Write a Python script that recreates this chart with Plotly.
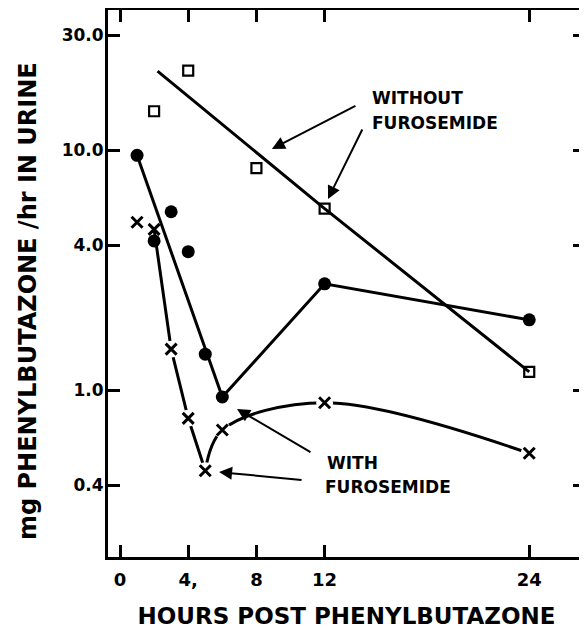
import plotly.graph_objects as go

# ---- data ----
hours_sq = [2, 4, 8, 12, 24]
vals_sq = [14.5, 21.4, 8.4, 5.7, 1.19]          # without furosemide (open squares)
fit_hours = [2.2, 12, 24]
fit_vals = [21.3, 5.7, 1.19]                    # fitted line, without furosemide

hours_dot = [1, 2, 3, 4, 5, 6, 12, 24]
vals_dot = [9.5, 4.18, 5.53, 3.77, 1.41, 0.935, 2.77, 1.96]   # filled circles
dot_line_hours = [1, 6]
dot_line_vals = [9.5, 0.935]
dot_line2_hours = [6, 12, 24]
dot_line2_vals = [0.935, 2.77, 1.96]

hours_x = [1, 2, 3, 4, 5, 6, 12, 24]
vals_x = [5.0, 4.67, 1.48, 0.762, 0.461, 0.681, 0.885, 0.545]  # crosses (with furosemide)
x_down_hours = [2, 3, 4, 5]
x_down_vals = [4.67, 1.48, 0.762, 0.461]
x_up_hours = [5, 6, 12, 24]
x_up_vals = [0.461, 0.681, 0.885, 0.545]

x_tickvals = [0, 4, 8, 12, 24]
x_ticktext = ["0", "4,", "8", "12", "24"]
y_tickvals = [0.4, 1.0, 4.0, 10.0, 30.0]
y_ticktext = ["0.4", "1.0", "4.0", "10.0", "30.0"]

FONT = "DejaVu Sans"
LW = 3

fig = go.Figure()

# lines
fig.add_trace(go.Scatter(x=fit_hours, y=fit_vals, mode="lines",
                         line=dict(color="black", width=LW), showlegend=False))
fig.add_trace(go.Scatter(x=dot_line_hours, y=dot_line_vals, mode="lines",
                         line=dict(color="black", width=LW), showlegend=False))
fig.add_trace(go.Scatter(x=dot_line2_hours, y=dot_line2_vals, mode="lines",
                         line=dict(color="black", width=LW), showlegend=False))
fig.add_trace(go.Scatter(x=x_down_hours, y=x_down_vals, mode="lines",
                         line=dict(color="black", width=LW), showlegend=False))
fig.add_trace(go.Scatter(x=x_up_hours, y=x_up_vals, mode="lines",
                         line=dict(color="black", width=LW, shape="spline", smoothing=1.0),
                         showlegend=False))

# white halos around crosses (gaps in the line)
fig.add_trace(go.Scatter(x=hours_x[2:], y=vals_x[2:], mode="markers",
                         marker=dict(symbol="circle", size=17, color="white",
                                     line=dict(width=0)), showlegend=False))

# markers
fig.add_trace(go.Scatter(x=hours_sq, y=vals_sq, mode="markers",
                         marker=dict(symbol="square-open", size=10, color="black",
                                     line=dict(width=2.2, color="black")),
                         showlegend=False))
fig.add_trace(go.Scatter(x=hours_dot, y=vals_dot, mode="markers",
                         marker=dict(symbol="circle", size=13, color="black"),
                         showlegend=False))
fig.add_trace(go.Scatter(x=hours_x, y=vals_x, mode="markers",
                         marker=dict(symbol="x-thin", size=11, color="black",
                                     line=dict(width=3, color="black")),
                         showlegend=False))

# ---- annotations ----
tfont = dict(family=FONT, size=17, color="black", weight="bold")

fig.add_annotation(x=14.66, y=1.217, xref="x", yref="y", text="WITHOUT",
                   showarrow=False, xanchor="left", yanchor="middle", font=tfont)
fig.add_annotation(x=14.66, y=1.1125, xref="x", yref="y", text="FUROSEMIDE",
                   showarrow=False, xanchor="left", yanchor="middle", font=tfont)
fig.add_annotation(x=12.02, y=-0.304, xref="x", yref="y", text="WITH",
                   showarrow=False, xanchor="left", yanchor="middle", font=tfont)
fig.add_annotation(x=11.9, y=-0.404, xref="x", yref="y", text="FUROSEMIDE",
                   showarrow=False, xanchor="left", yanchor="middle", font=tfont)

arrows = [
    (8.91, 1.004, 85, -44),
    (12.2, 0.796, 35, -71),
    (6.86, -0.079, 75, 44),
    (5.81, -0.342, 84, 8),
]
for ax_, ay_, dx, dy in arrows:
    fig.add_annotation(x=ax_, y=ay_, xref="x", yref="y", ax=dx, ay=dy,
                       axref="pixel", ayref="pixel", text="", showarrow=True,
                       arrowhead=2, arrowsize=1.3, arrowwidth=2, arrowcolor="black",
                       standoff=0)

# y-axis title (as a rotated annotation so it can sit slightly below centre)
fig.add_annotation(x=-0.1677, y=0.468, xref="paper", yref="paper",
                   text="mg PHENYLBUTAZONE /hr IN URINE", textangle=-90,
                   showarrow=False, xanchor="center", yanchor="middle",
                   font=dict(family=FONT, size=24, color="black", weight="bold"))

# the page body adds an 8px margin, so the figure is sized to fit the window
fig.update_layout(
    width=579, height=621,
    margin=dict(l=100, r=2, t=2, b=72, autoexpand=False),
    paper_bgcolor="white", plot_bgcolor="white",
    font=dict(family=FONT, size=17, color="black", weight="bold"),
    showlegend=False,
)
fig.update_xaxes(
    range=[-0.704, 27.27], tickvals=x_tickvals, ticktext=x_ticktext,
    ticks="inside", ticklen=12, tickwidth=2.5, tickcolor="black",
    showline=True, linewidth=LW, linecolor="black", mirror="ticks",
    showgrid=False, zeroline=False, automargin=False,
    tickfont=dict(family=FONT, size=18, color="black", weight="bold"),
    ticklabelstandoff=4,
    title=dict(text="HOURS POST PHENYLBUTAZONE",
               font=dict(family=FONT, size=23, color="black", weight="bold"),
               standoff=36),
)
fig.update_yaxes(
    type="log", range=[-0.6958, 1.5833], tickvals=y_tickvals, ticktext=y_ticktext,
    ticks="inside", ticklen=12, tickwidth=2.5, tickcolor="black",
    showline=True, linewidth=LW, linecolor="black", mirror="ticks",
    showgrid=False, zeroline=False, automargin=False,
    tickfont=dict(family=FONT, size=17, color="black", weight="bold"),
    ticklabelstandoff=-2,
)

fig.write_html("out.html")
